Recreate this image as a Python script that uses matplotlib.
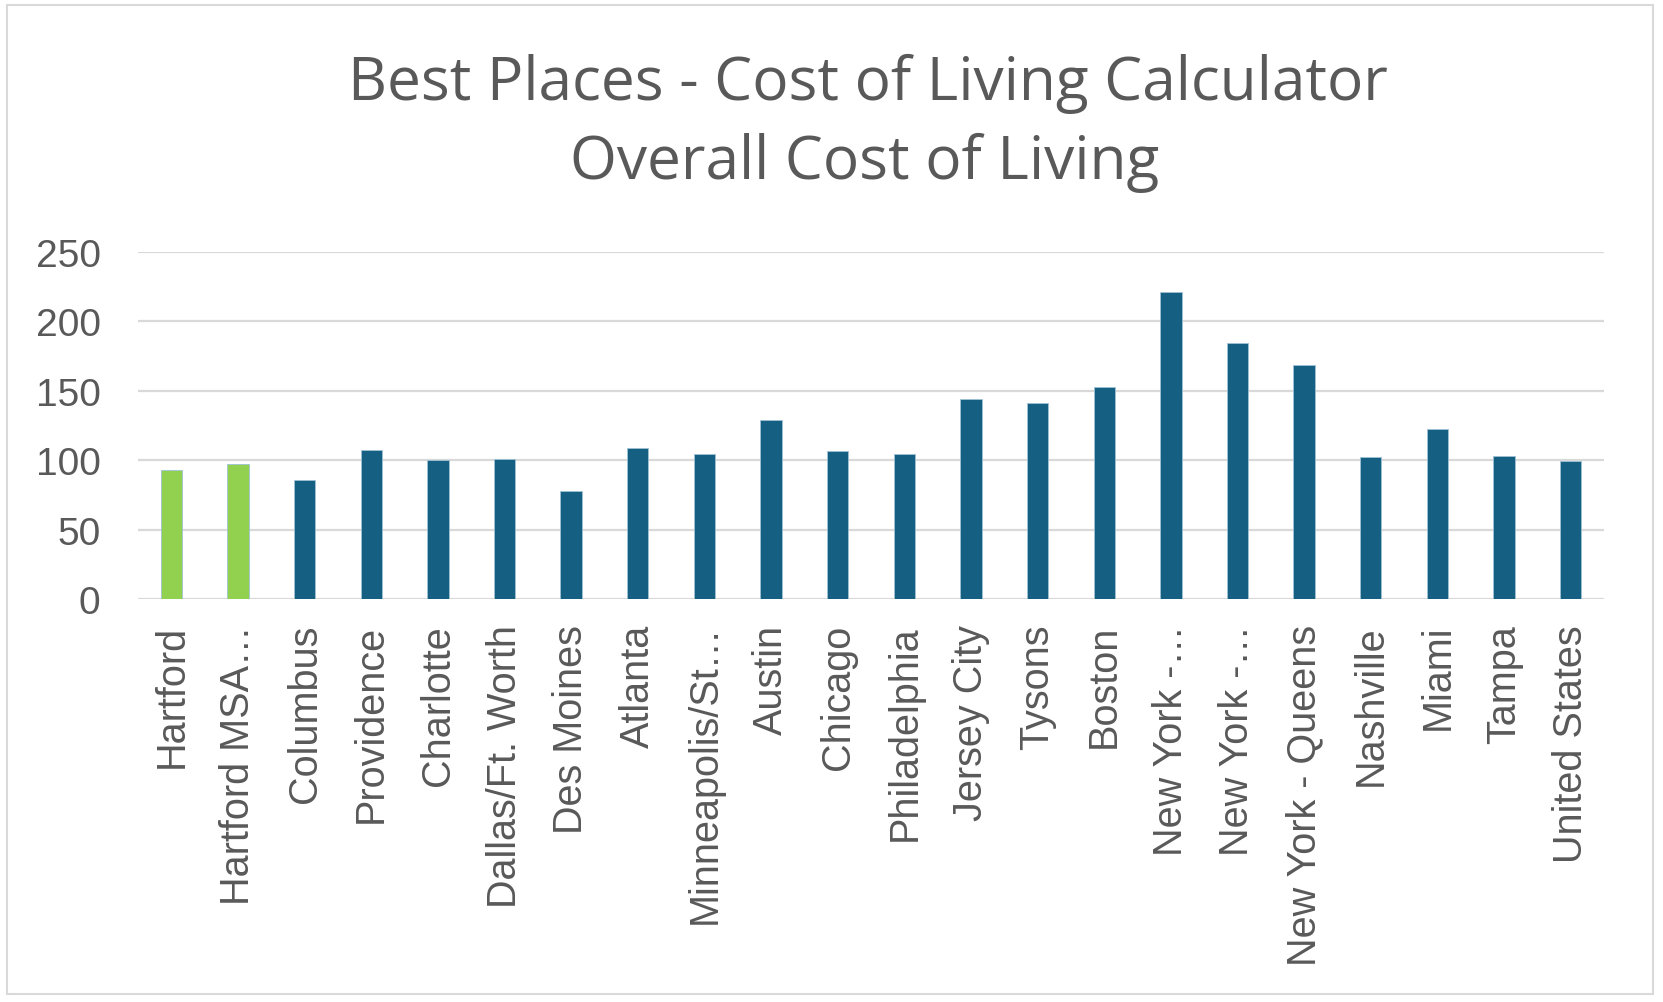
import matplotlib
matplotlib.use("Agg")
import matplotlib.pyplot as plt
from matplotlib.patches import Rectangle

# data
cities = ["Hartford", "Hartford MSA…", "Columbus", "Providence", "Charlotte",
          "Dallas/Ft. Worth", "Des Moines", "Atlanta", "Minneapolis/St…",
          "Austin", "Chicago", "Philadelphia", "Jersey City", "Tysons", "Boston",
          "New York -…", "New York -…", "New York - Queens", "Nashville",
          "Miami", "Tampa", "United States"]
cost_index = [93, 97, 86, 107.5, 100, 100.6, 78, 109, 104.6, 129, 106.8, 104.6,
              144.2, 141.4, 152.8, 221.2, 184.5, 168.2, 102.4, 122.1, 103.2, 99.6]
highlight = [0, 1]  # Hartford bars in green

y_ticks = [0, 50, 100, 150, 200, 250]

BLUE = "#156082"
GREEN = "#92D050"
GRID = "#D9D9D9"
TXT = "#595959"

fig = plt.figure(figsize=(16.63, 10.03), dpi=100)
fig.patch.set_facecolor("white")
fig.patches.append(Rectangle((0.004, 0.008), 0.99, 0.986, transform=fig.transFigure,
                             fill=False, edgecolor=GRID, linewidth=1.5))

ax = fig.add_axes([0.083, 0.4018, 0.8815, 0.3462])

colors = [GREEN if i in highlight else BLUE for i in range(len(cities))]
x = list(range(len(cities)))
ax.bar(x, cost_index, width=0.32, color=colors, edgecolor="#9FC3D5", linewidth=0.6, zorder=3)

ax.set_xlim(-0.5, len(cities) - 0.5)
ax.set_ylim(0, 250)
ax.set_yticks(y_ticks)
ax.yaxis.grid(True, color=GRID, linewidth=1.6, zorder=0)
ax.set_axisbelow(True)
for s in ax.spines.values():
    s.set_visible(False)

ax.tick_params(axis="y", length=0, pad=27, labelsize=28, labelcolor=TXT)
ax.tick_params(axis="x", length=0, pad=18, labelsize=28.5, labelcolor=TXT)
ax.set_xticks(x)
ax.set_xticklabels(cities, rotation=90, ha="center", va="top")
for lbl in ax.get_xticklabels() + ax.get_yticklabels():
    lbl.set_family("Liberation Sans")

fig.text(0.522, 0.916, "Best Places - Cost of Living Calculator", ha="center", va="center",
         fontsize=43.5, color=TXT, family="Open Sans")
fig.text(0.520, 0.838, "Overall Cost of Living", ha="center", va="center",
         fontsize=43.5, color=TXT, family="Open Sans")

fig.savefig("out.png", dpi=100, facecolor="white")
